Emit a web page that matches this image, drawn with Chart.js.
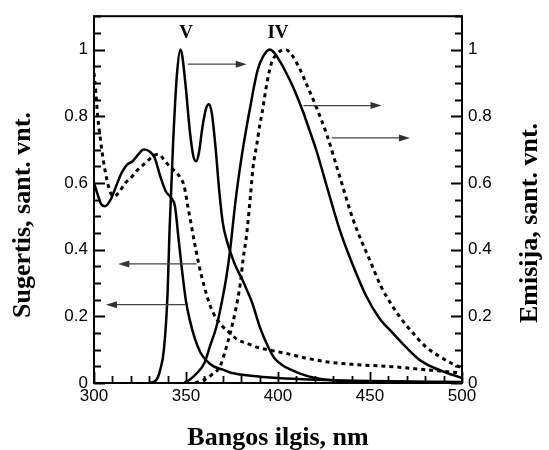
<!DOCTYPE html>
<html>
<head>
<meta charset="utf-8">
<script src="https://cdn.jsdelivr.net/npm/chart.js@4.4.0/dist/chart.umd.min.js"></script>
<style>
  html, body { margin: 0; padding: 0; background: #fff; }
  #wrap { width: 549px; height: 450px; position: relative; }
</style>
</head>
<body>
<div id="wrap"><canvas id="chart"></canvas></div>
<script>
// tick labels
const xTicks = [300, 350, 400, 450, 500];
const yTicks = [0, 0.2, 0.4, 0.6, 0.8, 1];

// absorption V (solid)
const absV_nm = [300, 302, 304, 306, 309, 312, 315, 318, 321, 324, 327, 330, 333, 336, 339, 342, 344, 346, 348, 350, 352, 355, 358, 361, 365, 370, 375, 385, 400, 420, 450, 500];
const absV = [0.60, 0.565, 0.535, 0.53, 0.55, 0.59, 0.63, 0.655, 0.665, 0.685, 0.70, 0.695, 0.675, 0.62, 0.575, 0.555, 0.53, 0.43, 0.33, 0.245, 0.19, 0.13, 0.09, 0.068, 0.05, 0.04, 0.03, 0.022, 0.015, 0.01, 0.006, 0.003];

// absorption IV (dashed)
const absIV_nm = [300, 301, 302, 303.5, 305, 307, 309, 311, 314, 317, 320, 323, 326, 329, 332, 335, 338, 341, 344, 347, 349, 351, 353, 355, 357, 359.5, 362, 365, 369, 374, 378, 383, 390, 396, 405, 415, 426, 440, 462, 480, 492, 500];
const absIV = [0.93, 0.87, 0.8, 0.73, 0.67, 0.61, 0.57, 0.56, 0.575, 0.6, 0.615, 0.635, 0.65, 0.665, 0.68, 0.686, 0.67, 0.65, 0.635, 0.615, 0.59, 0.53, 0.47, 0.41, 0.355, 0.298, 0.25, 0.208, 0.175, 0.149, 0.13, 0.119, 0.105, 0.098, 0.088, 0.075, 0.064, 0.056, 0.049, 0.04, 0.034, 0.03];

// emission V (solid)
const emV_nm = [330, 334, 336, 338, 340, 341, 343, 345, 347, 348, 350, 352, 354, 355.5, 357, 359, 361, 362.5, 364, 366, 368, 370, 372, 374, 377, 380, 383, 386, 390, 394.5, 398, 402, 407, 412, 420, 430, 450, 500];
const emV = [0, 0.01, 0.04, 0.1, 0.27, 0.45, 0.72, 0.92, 1.0, 0.98, 0.88, 0.76, 0.68, 0.665, 0.69, 0.77, 0.825, 0.836, 0.81, 0.71, 0.58, 0.48, 0.43, 0.395, 0.35, 0.317, 0.28, 0.24, 0.17, 0.11, 0.075, 0.055, 0.04, 0.028, 0.015, 0.008, 0.003, 0];

// emission IV (solid)
const emIV_nm = [349, 352, 356, 360, 363, 366.5, 369, 372, 374, 377, 380, 383, 385, 387, 389, 392, 395.5, 398, 401, 404, 408, 413.5, 417, 421, 426.5, 433.5, 439, 448, 455, 462.5, 470, 477, 485, 492, 500];
const emIV = [0, 0.01, 0.03, 0.06, 0.11, 0.168, 0.23, 0.32, 0.40, 0.55, 0.67, 0.77, 0.83, 0.89, 0.94, 0.98, 1.0, 0.99, 0.965, 0.935, 0.89, 0.815, 0.76, 0.695, 0.59, 0.46, 0.377, 0.26, 0.195, 0.149, 0.105, 0.069, 0.045, 0.03, 0.015];

// emission IV (dashed)
const emIVd_nm = [355, 360, 364, 368.5, 371, 374, 377, 379.5, 381, 383, 385, 386.5, 388.5, 390, 391.5, 394, 396.5, 400, 404, 408, 412, 416, 421, 426.5, 433.5, 441, 450, 456, 462.5, 468, 473.5, 480, 488, 494, 500];
const emIVd = [0, 0.01, 0.025, 0.05, 0.09, 0.149, 0.22, 0.298, 0.37, 0.447, 0.56, 0.65, 0.716, 0.77, 0.815, 0.9, 0.96, 0.99, 1.0, 0.98, 0.94, 0.89, 0.825, 0.745, 0.62, 0.487, 0.367, 0.29, 0.228, 0.185, 0.149, 0.11, 0.079, 0.06, 0.045];

// arrows [fromNm, toNm, value]
const arrows = [
  [351, 383, 0.956],
  [413.8, 456.3, 0.832],
  [429.2, 471.7, 0.735],
  [355.8, 313.2, 0.357],
  [349.5, 306.5, 0.235]
];
// curve labels [text, nm, value]
const curveLabels = [['V', 350, 1.05], ['IV', 400, 1.05]];

const pts = (xs, ys) => xs.map((x, i) => ({ x: x, y: ys[i] }));

const line = (data, axis, dashed) => ({
  data: data,
  yAxisID: axis,
  borderColor: '#000',
  borderWidth: dashed ? 3 : 2.5,
  borderDash: dashed ? [4, 4] : [],
  pointRadius: 0,
  fill: false,
  cubicInterpolationMode: 'monotone'
});

const tickFont = { family: 'Liberation Sans', size: 17 };

const framePlugin = {
  id: 'frame',
  afterDraw(chart) {
    const ctx = chart.ctx;
    const a = chart.chartArea;
    const x = chart.scales.x, y = chart.scales.y;
    ctx.save();
    ctx.strokeStyle = '#000';

    // inward tick marks
    ctx.lineWidth = 1.8;
    ctx.beginPath();
    for (let i = 0; i <= 22; i++) {
      const v = i * 0.05;
      const py = Math.round(y.getPixelForValue(v)) + 0.5;
      const len = (i % 4 === 0) ? 11 : 7;
      ctx.moveTo(a.left, py); ctx.lineTo(a.left + len, py);
      ctx.moveTo(a.right, py); ctx.lineTo(a.right - len, py);
    }
    for (let nm = 300; nm <= 500; nm += 10) {
      const px = Math.round(x.getPixelForValue(nm)) + 0.5;
      const len = (nm % 50 === 0) ? 11 : 7;
      ctx.moveTo(px, a.bottom); ctx.lineTo(px, a.bottom - len);
    }
    ctx.stroke();

    // frame
    ctx.lineWidth = 2;
    ctx.strokeRect(a.left, a.top, a.right - a.left, a.bottom - a.top);

    // arrows
    ctx.strokeStyle = '#444';
    ctx.fillStyle = '#333';
    ctx.lineWidth = 1.2;
    arrows.forEach(([from, to, v]) => {
      const x1 = x.getPixelForValue(from), x2 = x.getPixelForValue(to);
      const py = y.getPixelForValue(v);
      const dir = Math.sign(x2 - x1);
      ctx.beginPath();
      ctx.moveTo(x1, py); ctx.lineTo(x2 - dir * 8, py);
      ctx.stroke();
      ctx.beginPath();
      ctx.moveTo(x2, py);
      ctx.lineTo(x2 - dir * 11, py - 3.5);
      ctx.lineTo(x2 - dir * 11, py + 3.5);
      ctx.closePath();
      ctx.fill();
    });

    // curve labels
    ctx.fillStyle = '#000';
    ctx.font = 'bold 19px "Liberation Serif"';
    ctx.textAlign = 'center';
    ctx.textBaseline = 'middle';
    curveLabels.forEach(([t, nm, v]) => {
      ctx.fillText(t, x.getPixelForValue(nm), y.getPixelForValue(v));
    });

    // axis titles
    ctx.font = 'bold 26px "Liberation Serif"';
    ctx.textBaseline = 'alphabetic';
    ctx.fillText('Bangos ilgis, nm', (a.left + a.right) / 2, 445);

    ctx.save();
    ctx.translate(30, 215);
    ctx.rotate(-Math.PI / 2);
    ctx.fillText('Sugertis, sant. vnt.', 0, 0);
    ctx.restore();

    ctx.save();
    ctx.translate(537, 223);
    ctx.rotate(-Math.PI / 2);
    ctx.fillText('Emisija, sant. vnt.', 0, 0);
    ctx.restore();

    ctx.restore();
  }
};

const yScale = (pos, width) => ({
  type: 'linear',
  position: pos,
  min: 0,
  max: 1.1,
  grid: { display: false, drawTicks: false },
  border: { display: false },
  afterBuildTicks: s => { s.ticks = yTicks.map(v => ({ value: v })); },
  afterFit: s => { s.width = width; },
  ticks: {
    font: tickFont,
    color: '#000',
    padding: 6,
    callback: v => String(Math.round(v * 10) / 10)
  }
});

new Chart(document.getElementById('chart'), {
  type: 'line',
  data: {
    datasets: [
      line(pts(absV_nm, absV), 'y', false),
      line(pts(absIV_nm, absIV), 'y', true),
      line(pts(emV_nm, emV), 'y2', false),
      line(pts(emIV_nm, emIV), 'y2', false),
      line(pts(emIVd_nm, emIVd), 'y2', true)
    ]
  },
  options: {
    responsive: true,
    maintainAspectRatio: false,
    animation: false,
    layout: { padding: { top: 15, left: 0, right: 0, bottom: 0 } },
    plugins: { legend: { display: false }, tooltip: { enabled: false } },
    scales: {
      x: {
        type: 'linear',
        min: 300,
        max: 500,
        grid: { display: false, drawTicks: false },
        border: { display: false },
        afterBuildTicks: s => { s.ticks = xTicks.map(v => ({ value: v })); },
        afterFit: s => { s.height = 67; },
        ticks: { font: tickFont, color: '#000', padding: 3, maxRotation: 0 }
      },
      y: yScale('left', 94),
      y2: yScale('right', 87)
    }
  },
  plugins: [framePlugin]
});
</script>
</body>
</html>
